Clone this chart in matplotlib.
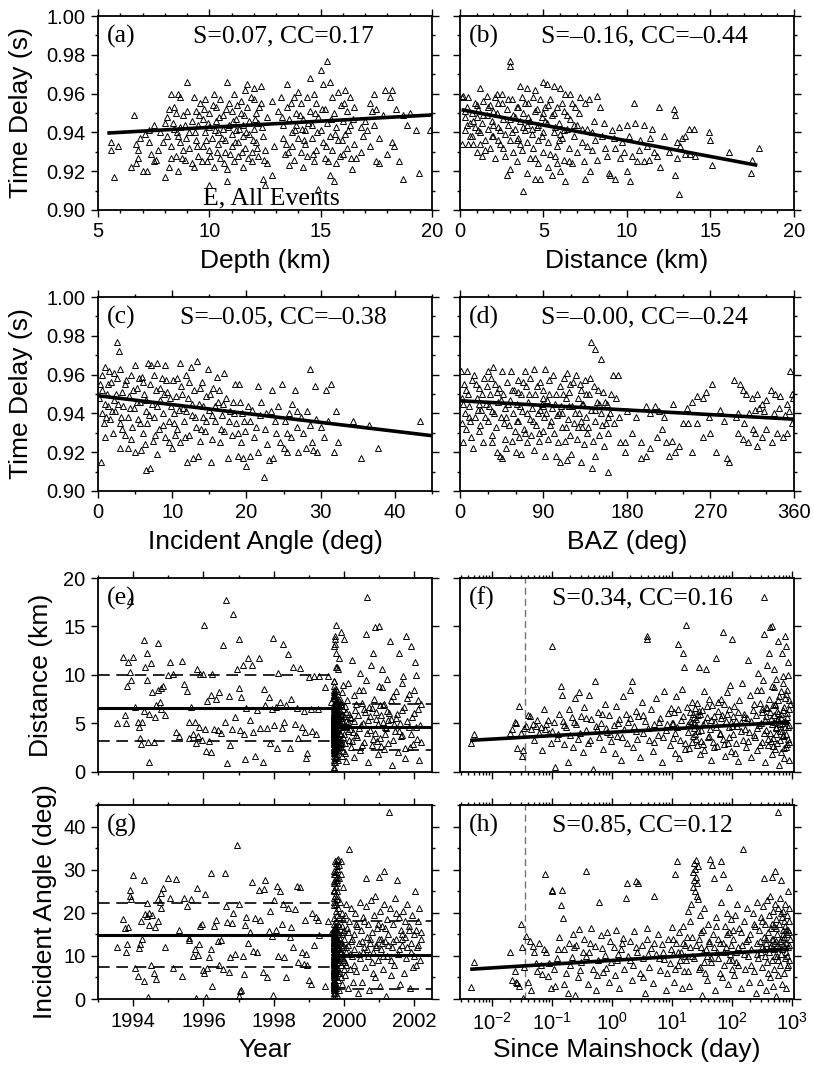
import matplotlib
matplotlib.use("Agg")
import matplotlib.pyplot as plt
import numpy as np
from matplotlib.ticker import MultipleLocator, FormatStrFormatter, LogLocator, NullFormatter

plt.rcParams["font.family"] = ["Liberation Sans", "DejaVu Sans"]
plt.rcParams["mathtext.fontset"] = "custom"
plt.rcParams["mathtext.rm"] = "Liberation Sans"
plt.rcParams["mathtext.it"] = "Liberation Sans"
SERIF = ["Liberation Serif", "DejaVu Serif"]

# ---- (a) depth (km) vs time delay (ms) ----
pts_depth = [
    (5.6,935),(5.6,931),(5.9,933),(5.7,917),(6.6,949),(6.5,922),(6.7,924),(6.7,934),(6.8,927),(7.0,920),
    (7.2,920),(7.1,939),(6.9,937),(6.8,931),(7.3,935),(7.4,929),(7.5,944),(7.6,926),(7.7,931),(7.5,925),
    (7.8,940),(7.9,935),(7.3,941),
    (8.0,945),(8.1,948),(8.3,960),(8.6,960),(8.7,958),(9.0,966),(8.4,953),(8.2,952),(8.5,950),(8.8,949),
    (8.9,944),(8.1,938),(8.3,933),(8.5,928),(8.7,935),(8.9,926),(8.2,922),(8.0,917),(8.6,920),(9.1,940),
    (8.4,942),(8.8,931),(9.1,932),(9.2,924),(8.3,927),(8.7,943),(8.6,938),(9.0,951),
    (9.3,958),(9.4,951),(9.5,944),(9.4,936),(9.5,928),(9.3,922),(9.6,955),(9.7,947),(9.8,940),(9.7,933),
    (9.9,925),(9.8,957),(10.0,950),(10.0,943),(10.1,937),(10.0,931),(10.0,913),(10.2,922),(10.2,960),
    (10.3,953),(10.3,946),(10.4,940),(10.4,934),(10.5,927),(10.5,957),(10.6,949),(10.6,942),(10.7,936),
    (10.7,930),(10.8,966),(10.8,921),(10.8,915),(10.9,955),(10.9,944),(11.0,939),(11.0,951),(11.0,933),
    (11.1,925),(11.1,960),(11.2,947),(11.2,941),(11.3,935),(11.3,928),(11.4,956),(11.4,950),(11.5,944),
    (11.5,938),(11.5,922),(11.6,962),(11.6,932),(11.7,965),(11.7,953),(11.8,946),(11.8,939),(11.9,930),
    (11.9,925),(12.0,963),(12.0,957),(12.0,942),(12.1,950),(12.1,935),(12.2,928),(12.2,945),(12.3,964),
    (12.3,955),(12.4,938),(12.4,916),(12.5,913),(12.5,931),(12.6,948),(12.6,924),(12.8,956),(12.9,933),
    (12.8,918),
    (13.1,951),(13.2,958),(13.3,944),(13.3,937),(13.4,929),(13.5,965),(13.5,953),(13.6,947),(13.6,923),
    (13.7,940),(13.7,933),(13.8,958),(13.8,926),(13.9,950),(13.9,944),(14.0,961),(14.0,937),(14.1,930),
    (14.1,955),(14.2,947),(14.2,922),(14.3,941),(14.3,934),(14.4,958),(14.4,928),(14.5,968),(14.5,951),
    (14.6,944),(14.6,937),(14.7,925),(14.7,960),(14.8,955),(14.8,931),(14.9,948),(14.9,911),(15.0,972),
    (15.0,941),(15.1,965),(15.1,935),(15.2,952),(15.2,927),(15.3,977),(15.3,945),(15.4,966),(15.4,938),
    (15.4,918),(15.5,958),(15.5,931),(15.6,950),(15.6,915),(15.7,943),(15.7,924),(15.8,961),(15.8,936),
    (15.9,954),(16.0,946),(16.0,929),(16.1,962),(16.1,939),(16.2,951),(16.2,932),(16.3,958),(16.3,944),
    (16.4,921),(16.5,953),(16.5,934),
    (16.8,943),(16.6,927),(17.0,946),(17.2,955),(17.4,960),(17.5,952),(17.9,962),(18.2,962),(18.1,958),
    (18.4,952),(18.7,949),(19.3,941),(18.9,944),(17.8,949),(17.3,951),(17.4,944),(17.6,937),(17.2,933),
    (16.9,938),(17.5,925),(17.6,924),(18.0,929),(18.3,933),(18.2,935),(18.5,925),(18.7,916),(19.4,919),
    (19.9,941),(19.0,950),(17.1,941),(16.8,930),
    (9.2,946),(9.35,940),(9.45,933),(9.55,949),(9.65,925),(9.75,952),(9.85,936),(9.95,945),(10.05,928),
    (10.15,954),(10.25,941),(10.35,930),(10.45,948),(10.55,937),(10.65,924),(10.75,952),(10.85,943),
    (10.95,929),(11.05,946),(11.15,935),(11.25,954),(11.35,942),(11.45,930),(11.55,949),(11.65,940),
    (11.75,927),(11.85,958),(11.95,936),(12.05,947),(12.15,932),(12.25,953),(12.35,943),(12.45,926),
    (8.35,945),(8.55,940),(8.75,927),(8.95,937),(13.25,948),(13.45,934),(13.65,955),(13.85,941),
    (14.05,949),(14.25,936),(14.45,945),(14.65,929),(14.85,940),(15.05,952),(15.25,933),(15.45,947),
    (15.65,939),(15.85,928),(16.05,955),(16.25,941),(16.45,947),(13.55,930),(14.15,942),(14.75,950),
    (15.35,925),(15.95,936),(16.35,927),
]

# ---- (b) epicentral distance (km) vs time delay (ms) ----
pts_dist = [
    (0.1,958),(0.2,959),(0.1,934),(0.3,948),(0.3,941),(0.4,953),(0.5,958),(0.5,934),(0.6,945),(0.7,950),
    (0.7,938),(0.8,934),(0.9,955),(0.9,943),(1.0,930),(1.0,948),
    (1.1,952),(1.2,963),(1.2,940),(1.3,928),(1.3,945),(1.4,956),(1.5,936),(1.6,959),(1.6,949),(1.7,942),
    (1.8,932),(1.8,954),(1.9,946),(2.0,938),(2.1,958),(2.1,927),(2.2,960),(2.2,950),(2.3,943),(2.4,934),
    (2.5,960),(2.5,955),(2.6,947),(2.7,939),(2.7,928),(2.8,918),(2.8,952),(2.9,944),(3.0,977),(3.0,974),
    (3.0,921),(3.0,936),
    (3.1,957),(3.2,949),(3.2,930),(3.3,942),(3.4,953),(3.4,925),(3.5,937),(3.6,964),(3.6,946),(3.7,958),
    (3.7,931),(3.8,910),(3.8,950),(3.9,941),(4.0,963),(4.0,919),(4.0,935),(4.1,955),(4.2,946),(4.2,927),
    (4.3,939),(4.4,958),(4.4,932),(4.5,962),(4.5,916),(4.5,951),(4.6,943),(4.7,924),(4.7,936),(4.8,916),
    (4.8,957),(4.9,948),(5.0,966),(5.0,940),(5.0,930),
    (5.1,953),(5.2,965),(5.2,945),(5.3,922),(5.3,935),(5.4,957),(5.5,918),(5.5,949),(5.6,964),(5.6,940),
    (5.7,928),(5.8,953),(5.8,933),(5.9,945),(6.0,963),(6.0,920),(6.1,937),(6.2,951),(6.2,926),(6.3,960),
    (6.3,915),(6.4,942),(6.5,932),(6.6,960),(6.6,947),(6.7,924),(6.8,938),(6.9,953),(7.0,930),(7.0,944),
    (7.2,958),(7.3,935),(7.4,925),(7.5,955),(7.5,916),(7.6,942),(7.7,957),(7.8,920),(7.9,931),(8.0,946),
    (8.2,959),(8.2,926),(8.4,953),(8.5,938),(8.7,932),(8.9,919),(9.0,918),(9.1,941),(9.3,916),(9.3,932),
    (9.5,943),(9.6,927),(9.8,930),(10.0,944),(10.0,920),(10.2,915),(10.3,928),(10.4,955),(10.5,945),
    (10.6,925),(10.8,936),(11.0,944),(11.0,925),(11.2,933),(11.3,926),(11.5,942),(11.6,930),(11.8,928),
    (11.9,953),(12.0,922),(12.2,938),(12.5,930),
    (12.8,952),(12.9,949),(12.9,918),(13.1,908),(13.0,935),(13.0,927),(13.3,937),(13.2,933),(13.5,938),
    (13.5,929),(13.7,942),(13.8,929),(14.0,942),(14.1,928),(14.9,940),(15.0,936),(15.1,923),(16.1,930),
    (17.5,926),(17.4,919),(17.9,932),
    (0.3,951),(0.6,938),(0.8,946),(1.1,941),(1.4,949),(1.5,931),(1.7,953),(1.9,938),(2.0,951),(2.3,955),
    (2.4,941),(2.6,932),(2.9,957),(3.1,940),(3.3,948),(3.5,953),(3.6,934),(3.8,943),(3.9,955),(4.1,948),
    (4.3,942),(4.6,952),(4.7,944),(4.9,938),(5.1,946),(5.3,954),(5.4,929),(5.6,950),(5.7,943),(5.9,936),
    (6.1,955),(6.2,941),(6.4,949),(6.5,925),(6.7,955),(6.8,944),(7.1,950),(7.3,942),(7.6,933),(7.9,940),
    (8.1,936),(8.6,945),(8.8,928),(9.2,937),(9.7,935),(10.1,938),(10.7,931),(11.4,937),(1.0,954),
    (2.0,944),(3.0,947),(4.0,944),(5.0,950),(6.0,939),(3.4,936),(4.5,927),(5.8,924),(2.3,936),(1.2,934),
    (0.4,944),
]

# ---- (c) incident angle (deg) vs time delay (ms) ----
pts_angle = [
    (0.2,948),(0.3,955),(0.4,915),(0.5,960),(0.6,940),(0.8,935),(1.0,964),(1.0,928),(1.2,950),(1.3,944),
    (1.5,962),(1.6,937),(1.8,956),(2.0,930),(2.1,947),(2.3,941),(2.5,977),(2.6,958),(2.8,972),(2.9,935),
    (3.0,963),(3.0,922),(3.2,951),(3.4,944),(3.6,929),(3.8,957),(4.0,922),(4.0,938),(4.2,949),(4.5,960),
    (4.6,933),(4.8,943),
    (5.0,965),(5.0,920),(5.2,953),(5.4,937),(5.6,946),(5.8,921),(5.9,959),(6.0,930),(6.2,950),(6.4,941),
    (6.5,911),(6.6,935),(6.8,966),(7.0,912),(7.0,955),(7.2,965),(7.3,945),(7.4,926),(7.6,938),(7.8,952),
    (8.0,966),(8.0,919),(8.2,932),(8.4,947),(8.6,958),(8.8,940),(9.0,965),(9.0,928),(9.3,951),(9.5,925),
    (9.6,936),(9.8,944),
    (10.0,922),(10.1,957),(10.3,940),(10.5,949),(10.7,932),(11.0,966),(11.0,925),(11.2,954),(11.4,943),
    (11.6,936),(11.8,960),(12.0,915),(12.1,948),(12.3,929),(12.5,964),(12.6,939),(12.8,917),(13.0,952),
    (13.2,933),(13.3,967),(13.5,918),(13.6,945),(13.8,926),(14.0,956),(14.2,938),(14.4,931),(14.6,949),
    (14.8,963),(15.0,942),(15.2,915),(15.3,927),(15.5,953),(15.8,936),(16.0,959),(16.2,946),(16.5,925),
    (16.7,939),(17.0,961),(17.0,931),
    (17.3,948),(17.5,917),(17.8,941),(18.0,929),(18.2,946),(18.5,955),(18.6,935),(18.8,918),(19.0,955),
    (19.2,925),(19.4,940),(19.5,917),(19.8,931),(20.0,913),(20.2,944),(20.5,918),(20.5,936),(21.0,928),
    (21.5,954),(21.5,920),(21.8,939),(22.0,946),(22.3,907),(22.5,932),(22.8,924),(23.0,916),(23.3,941),
    (23.5,952),(23.6,917),(24.0,930),(24.2,944),(24.5,925),(24.8,955),(25.0,922),(25.2,936),(25.5,920),
    (25.8,940),(26.0,928),(26.2,945),(26.5,952),(26.8,933),(27.0,920),(27.3,938),(27.6,930),(28.0,922),
    (28.2,941),(28.5,963),(28.6,934),(28.8,925),(29.0,921),(29.2,954),(29.4,937),(29.5,920),(30.0,933),
    (30.5,928),(30.7,952),(31.0,936),(31.4,955),(31.8,920),(32.0,941),(32.3,925),
    (34.3,936),(35.5,917),(36.5,934),(37.7,922),(43.4,936),
    (0.5,952),(0.9,945),(1.4,955),(1.9,941),(2.4,950),(3.1,938),(3.6,955),(4.3,943),(4.7,952),(5.3,946),
    (5.7,935),(6.1,956),(6.5,947),(6.9,939),(7.5,960),(7.9,944),(8.3,953),(8.7,934),(9.2,957),(9.7,948),
    (10.2,935),(10.6,958),(10.9,942),(11.3,950),(11.7,928),(12.2,956),(12.7,945),(13.1,938),(13.7,953),
    (14.1,944),(14.5,936),(15.1,950),(15.7,944),(16.3,952),(16.9,945),(17.6,936),(18.3,940),(19.1,946),
    (19.7,936),(20.8,942),(21.3,933),(23.8,936),(25.4,930),(1.1,938),(2.2,961),(3.3,932),(4.4,927),
    (5.5,958),(6.3,924),(7.7,929),(8.9,950),(10.4,929),(11.9,941),(13.9,932),(15.4,939),(16.6,932),
    (18.9,930),(22.6,940),(26.8,941),(2.7,945),
]

# ---- (d) back azimuth (deg) vs time delay (ms) ----
pts_baz = [
    (1,962),(2,948),(2,935),(3,925),(4,955),(5,940),(7,932),(8,962),(9,950),(10,944),(12,928),(13,957),
    (14,922),(15,960),(16,938),(18,948),(20,931),(21,953),(23,942),(25,925),(26,958),(28,945),(30,962),
    (30,936),(32,950),(34,929),(35,941),(36,964),(38,955),(39,933),(40,920),(41,946),(43,918),(44,938),
    (45,962),(45,917),(46,950),(48,927),(49,943),(50,922),(51,956),(53,934),(54,947),(55,962),(56,926),
    (57,940),(58,952),(59,931),
    (60,920),(61,945),(62,957),(63,936),(64,928),(66,919),(66,950),(67,941),(69,932),(70,962),(71,954),
    (72,925),(73,946),(75,937),(76,958),(77,929),(78,943),(80,963),(80,921),(81,950),(82,934),(84,940),
    (85,926),(86,956),(88,945),(89,931),(90,952),(91,938),(92,963),(92,918),(94,947),(95,927),(96,957),
    (97,934),(99,943),(100,960),(101,930),(103,918),(104,950),(105,939),(106,925),(108,915),(108,954),
    (109,944),(110,933),(112,958),(113,926),(114,948),(115,961),(115,916),(116,937),(118,951),(119,929),
    (120,919),
    (121,944),(122,956),(123,935),(125,960),(126,927),(127,948),(128,940),(130,915),(130,952),(131,933),
    (133,945),(134,924),(135,957),(136,938),(137,930),(139,950),(141,977),(141,942),(142,912),(143,926),
    (144,954),(146,973),(146,918),(146,936),(148,946),(150,929),(152,968),(152,940),(154,951),(155,923),
    (157,935),(158,945),(160,910),(160,930),(162,940),(165,960),(166,935),(168,948),(170,960),(171,938),
    (173,925),
    (178,925),(178,920),(180,941),(185,930),(190,938),(195,925),(195,917),(200,944),(200,918),(205,940),
    (205,922),(210,944),(212,928),(215,941),(218,932),(220,938),(222,925),(225,918),(228,926),(230,945),
    (232,920),(236,923),(240,935),(245,943),(246,935),(250,946),(250,920),(255,949),(256,935),(262,948),
    (262,928),(265,951),(268,938),(270,930),(272,955),(276,920),(280,942),(285,936),(288,917),(290,915),
    (295,957),(298,938),(300,930),(300,940),(302,955),(305,952),(305,927),(306,935),(308,950),(310,925),
    (312,940),(315,948),(316,932),(318,942),(318,930),(320,950),(320,923),(322,943),(325,945),(326,928),
    (328,941),(330,947),(330,932),(335,952),(336,925),(338,940),(340,950),(342,930),(344,943),(345,949),
    (348,928),(350,939),(352,945),(352,930),(355,941),(356,962),(358,950),(358,935),(359,948),
    (3,945),(6,952),(11,936),(17,955),(19,942),(22,934),(24,950),(27,938),(29,954),(31,944),(33,958),
    (37,940),(42,953),(44,947),(47,935),(52,945),(56,952),(61,936),(63,951),(65,944),(68,956),(72,940),
    (74,950),(79,936),(83,954),(86,942),(89,948),(93,940),(96,950),(98,936),(102,945),(107,940),(111,950),
    (114,933),(117,944),(119,955),(124,940),(127,933),(129,955),(132,945),(136,950),(138,933),(140,958),
    (145,942),(149,952),(153,934),(156,946),(159,938),(163,950),(10,938),(20,945),(40,951),(50,938),
    (70,930),(90,944),(110,940),(130,936),(150,945),(35,925),(85,930),
]

# ---- events before the mainshock: (decimal year, distance km, incident angle deg) ----
pre_events = [
    (1993.55,5.0,12.1),(1993.72,11.9,18.5),(1993.78,5.9,16.5),(1993.80,5.0,11.0),(1993.82,8.9,12.8),
    (1993.85,11.3,16.8),(1993.90,17.6,25.2),(1993.92,10.3,24.0),(1993.95,9.5,23.2),(1994.00,11.9,28.8),
    (1994.05,6.7,7.2),(1994.15,5.2,5.3),(1994.18,4.6,11.8),(1994.20,3.5,12.8),(1994.22,2.9,18.0),
    (1994.25,5.2,14.0),(1994.30,13.6,27.5),(1994.32,6.3,4.2),(1994.35,10.8,19.8),(1994.38,12.3,19.2),
    (1994.40,9.5,22.2),(1994.42,3.1,0.5),(1994.44,1.0,17.2),(1994.46,6.0,20.0),(1994.50,11.2,8.0),
    (1994.55,8.2,19.5),(1994.60,3.1,6.0),(1994.62,5.7,16.6),(1994.65,6.9,4.7),(1994.70,13.3,18.0),
    (1994.72,8.4,23.2),(1994.75,7.2,22.4),(1994.78,8.7,24.5),(1994.80,6.5,21.0),(1994.85,8.9,25.8),
    (1994.90,5.9,12.1),(1994.98,10.0,28.1),(1995.05,11.3,23.4),(1995.12,10.1,7.3),(1995.22,4.1,27.8),
    (1995.30,3.7,16.1),(1995.38,11.4,5.3),(1995.45,9.1,23.4),(1995.52,8.3,21.5),(1995.58,5.2,14.2),
    (1995.60,3.5,13.6),(1995.65,6.7,23.2),(1995.70,3.9,10.0),(1995.75,5.2,11.7),(1995.80,3.0,0.3),
    (1995.82,10.6,25.8),(1995.85,3.7,10.2),(1995.88,4.6,12.8),(1995.90,10.1,17.0),(1995.95,3.3,17.4),
    (1996.00,10.1,6.8),(1996.02,15.2,6.0),(1996.05,4.4,24.3),(1996.08,2.2,0.5),(1996.10,7.3,7.2),
    (1996.15,3.2,9.8),(1996.20,7.9,11.5),(1996.22,2.1,29.2),(1996.25,10.1,3.0),(1996.30,4.4,17.0),
    (1996.35,7.5,18.3),(1996.40,4.3,13.5),(1996.45,8.2,8.0),(1996.50,4.0,13.8),(1996.55,13.1,7.0),
    (1996.60,5.1,29.2),(1996.64,17.7,21.5),(1996.67,0.9,17.8),(1996.72,7.8,6.3),(1996.75,2.8,9.8),
    (1996.80,4.4,17.6),(1996.85,16.3,20.0),(1996.90,5.7,10.5),(1996.95,10.6,35.7),(1997.00,8.7,0.7),
    (1997.02,13.7,22.0),(1997.05,4.3,1.8),(1997.08,7.7,2.0),(1997.12,11.0,10.0),(1997.15,3.9,5.8),
    (1997.18,1.3,17.2),(1997.22,6.6,19.0),(1997.28,11.8,13.0),(1997.32,5.4,15.5),(1997.38,11.0,27.2),
    (1997.42,4.1,11.2),(1997.47,1.6,18.8),(1997.52,6.4,10.8),(1997.58,11.7,25.2),(1997.62,4.5,18.3),
    (1997.68,1.0,6.3),(1997.72,8.6,25.5),(1997.76,6.9,27.5),(1997.80,4.5,5.0),(1997.85,7.7,15.8),
    (1997.90,3.0,20.5),(1997.94,6.5,14.7),(1997.98,13.8,1.0),(1998.02,4.8,23.0),(1998.06,6.7,16.0),
    (1998.10,2.5,26.2),(1998.13,10.2,10.0),(1998.18,7.2,25.0),(1998.22,4.5,17.5),(1998.25,13.2,22.0),
    (1998.30,5.2,9.8),(1998.35,6.9,5.2),(1998.40,12.2,21.2),(1998.45,2.5,14.5),(1998.50,7.5,16.6),
    (1998.55,10.8,12.0),(1998.60,4.9,20.8),(1998.65,6.6,26.2),(1998.70,3.5,8.5),(1998.75,10.7,26.0),
    (1998.80,4.6,11.0),(1998.85,6.3,8.2),(1998.90,4.1,18.3),(1998.92,1.4,10.5),(1998.95,2.0,7.8),
    (1999.00,9.8,4.5),(1999.05,6.5,3.5),(1999.10,4.2,20.0),(1999.15,9.9,12.5),(1999.20,3.9,19.0),
    (1999.25,6.5,18.3),(1999.30,9.9,14.8),(1999.45,8.8,3.0),(1999.55,9.9,18.2),(1999.62,7.2,15.3),
]

# ---- events after the mainshock: (days since mainshock, distance km, incident angle deg) ----
post_events = [
    (0.0045,3.0,2.8),(0.005,3.9,8.5),
    (0.020,4.0,11.0),(0.021,4.4,4.4),(0.024,5.1,6.5),(0.025,5.0,3.9),(0.026,2.5,3.6),(0.028,6.8,3.0),
    (0.030,4.0,17.3),(0.031,1.6,12.0),(0.033,2.3,0.2),(0.034,4.5,7.5),
    (0.037,4.7,14.7),(0.039,5.9,4.0),(0.042,5.8,13.5),(0.045,4.4,2.0),(0.047,4.9,12.3),(0.050,3.3,10.8),
    (0.053,4.7,8.4),(0.056,5.4,6.5),(0.060,4.0,13.1),(0.064,4.6,8.0),(0.068,2.3,5.7),(0.072,6.5,11.5),
    (0.076,4.4,29.1),(0.080,4.9,11.0),(0.085,5.4,5.3),(0.090,4.0,8.4),(0.095,3.0,2.5),(0.099,13.0,25.0),
    (0.10,4.2,25.2),(0.11,0.5,3.0),(0.12,3.5,9.5),(0.13,6.0,14.5),(0.14,8.9,21.9),(0.145,7.9,25.2),
    (0.15,5.3,18.9),(0.16,2.9,11.5),(0.17,4.6,6.0),(0.18,1.0,1.5),(0.19,6.5,13.0),(0.20,3.8,7.8),
    (0.21,5.7,9.8),(0.22,2.6,15.0),(0.24,7.6,1.0),(0.25,4.9,12.5),(0.27,3.4,5.0),(0.28,8.2,16.2),
    (0.30,5.8,8.5),(0.32,2.1,10.8),(0.34,6.7,14.0),(0.37,4.3,29.7),(0.39,3.0,3.5),(0.41,7.9,11.0),
    (0.44,5.5,16.5),(0.47,0.3,7.0),(0.51,9.4,12.3),(0.54,4.7,2.2),(0.58,6.2,9.0),(0.61,3.6,22.5),
    (0.65,5.0,14.8),(0.70,2.4,6.3),(0.75,7.0,10.2),(0.82,4.1,15.5),(0.88,5.9,4.0),(0.95,3.2,8.7),
    (1.05,4.8,12.0),(1.1,2.0,5.5),(1.15,6.8,16.0),(1.2,3.7,9.0),(1.3,5.5,2.5),(1.4,1.2,11.5),
    (1.5,7.8,14.2),(1.6,4.4,7.0),(1.7,6.0,23.4),(1.75,3.0,26.8),(1.85,5.1,10.0),(2.0,8.5,13.5),
    (2.1,9.4,4.5),(2.2,2.6,8.0),(2.35,4.7,15.8),(2.46,6.3,27.3),(2.6,3.4,11.0),(2.7,5.8,27.0),
    (2.9,1.5,6.0),(3.1,7.2,12.5),(3.3,4.0,9.5),(3.5,5.3,1.5),(3.8,14.0,14.0),(3.85,13.7,16.5),
    (4.1,3.3,7.5),(4.4,6.5,11.8),(4.7,2.2,3.8),(5.0,4.9,24.0),(5.4,7.6,10.5),(5.8,3.8,15.0),
    (6.3,5.6,6.8),(6.8,1.0,12.8),(7.3,8.3,9.2),(7.9,4.3,2.0),(8.5,6.1,13.9),(9.2,2.8,8.3),(9.8,5.0,16.8),
    (10.3,3.5,10.5),(10.7,6.2,4.0),(11.0,2.0,29.0),(11.5,7.8,13.0),(12.0,4.6,32.0),(12.6,13.2,8.0),
    (13.2,1.4,15.5),(13.8,5.4,11.0),(14.4,8.6,2.5),(14.9,12.3,17.0),(15.5,10.8,6.5),(16.2,3.0,12.5),
    (17.0,15.2,9.0),(17.8,6.7,14.5),(18.5,4.1,20.5),(19.2,2.5,3.0),(20.0,5.3,18.0),(20.8,5.0,22.0),
    (21.5,7.2,10.0),(22.0,3.7,26.0),(22.5,6.0,29.5),(23.0,4.5,31.5),(23.4,5.2,27.5),(23.8,3.9,30.2),
    (24.2,6.6,25.0),(24.6,4.8,28.3),(25.0,5.5,32.3),(25.5,2.8,24.0),(26.0,7.1,27.0),(26.5,4.2,30.8),
    (27.2,5.9,23.2),(28.0,10.8,14.0),(28.8,1.8,7.5),(29.6,6.0,19.5),(30.5,3.2,12.0),(31.5,6.4,1.0),
    (32.5,4.9,16.0),(33.5,8.3,8.5),(34.5,2.3,21.0),(36.0,10.6,11.5),(37.5,5.7,4.5),(39.0,3.6,17.5),
    (40.5,7.5,13.0),(42.0,4.4,32.5),(44.0,1.2,9.5),(46.0,6.9,31.0),(48.0,3.1,15.0),(50.0,5.8,28.0),
    (52.0,5.1,2.0),(54.0,11.8,19.0),(56.5,2.7,11.0),(59.0,6.3,14.0),(61.5,4.0,6.0),(64.0,7.5,22.5),
    (66.0,5.6,32.0),(69.0,14.4,13.0),(70.0,3.4,29.0),(73.0,7.0,8.0),(76.0,1.6,17.0),(79.0,5.3,12.0),
    (82.0,8.2,20.0),(85.0,3.0,3.5),(87.0,6.5,26.0),(90.0,4.6,15.5),(93.0,9.0,10.5),(96.0,2.2,18.5),
    (98.0,4.7,7.0),
    (100,13.7,9.0),(104,3.9,14.0),(108,6.8,5.5),(112,2.0,19.5),(117,5.3,11.0),(122,4.7,22.0),
    (127,1.1,8.0),(132,7.4,16.5),(138,5.2,2.5),(144,9.2,12.5),(150,3.3,34.8),(156,6.0,18.0),
    (163,4.4,7.0),(170,2.6,13.5),(177,5.6,21.0),(185,11.5,10.0),(193,4.1,4.0),(201,7.9,15.0),
    (209,1.5,11.5),(218,6.4,20.0),(227,3.8,6.5),(236,3.6,17.0),(245,5.9,1.5),(254,8.4,13.0),
    (263,2.3,22.5),(272,10.2,9.5),(281,4.8,16.0),(290,7.1,4.0),(299,5.0,19.0),(308,3.1,12.0),
    (317,6.2,7.5),(326,9.5,21.5),(333,14.2,28.0),(340,18.0,14.5),(347,5.4,10.0),(355,1.0,17.5),
    (363,6.7,2.0),(371,4.3,13.0),(379,11.0,23.0),(387,6.6,8.5),(395,2.8,15.5),(403,12.3,11.0),
    (411,7.5,19.5),(420,14.9,5.0),(428,4.0,24.0),(436,5.5,12.5),(444,3.2,16.5),(452,1.8,9.0),
    (460,8.9,28.4),(466,15.1,14.0),(473,6.9,20.5),(480,3.5,3.0),(488,5.9,11.5),(496,10.6,17.0),
    (504,5.1,7.0),(512,2.4,22.0),(520,7.0,29.7),(528,4.6,13.5),(536,4.5,0.8),(544,9.6,18.5),
    (552,6.3,10.0),(560,3.0,15.0),(570,6.1,43.5),(580,13.5,21.0),(590,5.5,5.5),(600,0.7,12.0),
    (610,7.8,17.5),(620,4.9,8.0),(630,4.2,23.5),(640,8.3,14.0),(650,6.0,27.6),(660,2.1,10.5),
    (670,12.3,19.0),(680,5.0,3.5),(690,3.7,16.0),(700,3.8,12.5),(712,9.9,20.5),(724,6.7,6.0),
    (736,1.4,14.5),(748,14.0,9.5),(760,7.6,22.0),(772,4.6,17.0),(784,2.6,2.5),(796,13.0,11.0),
    (808,5.7,19.5),(820,2.9,7.5),(832,8.4,15.0),(844,11.3,25.0),(856,3.4,12.0),(868,6.5,18.0),
    (880,1.2,21.0),(892,4.8,9.0),(904,7.0,14.0),
    (0.105,5.1,7.0),(0.125,3.9,11.5),(0.155,4.8,3.5),(0.23,5.2,12.0),(0.29,4.0,6.8),(0.36,5.6,10.0),
    (0.43,3.3,13.0),(0.56,4.4,5.5),(0.68,6.0,11.8),(0.79,4.5,7.2),(0.92,3.9,13.5),
    (1.25,5.0,10.5),(1.45,3.6,13.0),(1.95,5.6,9.0),(2.5,4.2,12.0),(3.2,5.9,5.0),(4.0,4.5,10.5),
    (4.9,3.1,13.0),(6.0,5.2,9.5),(7.0,3.6,11.0),(8.2,4.9,6.0),(9.5,6.6,11.5),
    (10.5,5.0,14.0),(11.2,4.0,7.0),(12.3,6.5,11.0),(13.5,3.3,9.0),(15.0,5.8,13.0),(16.6,2.4,10.0),
    (18.0,4.9,6.5),(19.6,6.2,12.0),(21.0,3.1,14.5),(23.2,5.7,9.5),(24.9,3.4,12.5),(27.6,6.3,7.0),
    (30.0,4.3,15.5),(33.0,2.9,11.0),(35.2,5.2,6.0),(38.2,6.8,10.0),(41.2,3.7,13.5),(45.0,5.4,8.5),
    (49.0,2.6,12.0),(53.0,4.6,17.0),(58.0,7.2,9.5),(63.0,3.9,13.0),(68.0,5.9,5.0),(74.0,2.9,11.0),
    (80.5,6.0,15.0),(88.5,3.6,9.0),(95.0,5.1,12.5),
    (102,5.8,16.0),(115,3.0,8.5),(125,6.2,12.0),(141,4.2,15.5),(160,5.7,10.5),(181,3.2,14.0),
    (205,5.3,8.0),(231,7.0,17.5),(258,4.5,10.5),(286,2.8,13.5),(312,6.5,18.0),(343,4.0,11.5),
    (367,5.8,14.0),(399,3.4,6.0),(432,6.2,12.0),(456,4.9,17.5),(484,2.7,14.0),(508,6.9,10.0),
    (532,3.9,16.5),(556,5.4,12.5),(585,7.4,9.0),(615,3.3,13.5),(645,5.6,20.0),(675,4.2,11.5),
    (706,6.4,14.0),(730,2.5,18.0),(754,5.3,12.0),(778,8.0,16.0),(802,3.9,13.0),(826,6.1,10.0),
    (850,4.6,16.0),(874,7.4,12.5),(898,3.1,15.5),(300,8.5,11.0),(500,8.8,13.0),(700,9.2,15.0),
    (850,10.0,8.0),
]

mainshock_year = 1999.72      # 1999 Chi-Chi mainshock
mainshock_marker_day = 0.035  # grey dashed line in (f), (h)

# regression lines (x ends, y ends)
fit_depth = ([5.5, 20.0], [0.9397, 0.9490])
fit_dist = ([0.2, 17.7], [0.9515, 0.9232])
fit_angle = ([0.0, 45.0], [0.9491, 0.9285])
fit_baz = ([0.0, 360.0], [0.9465, 0.9370])
fit_day_dist = ([0.0046, 830.0], [3.27, 5.13])
fit_day_angle = ([0.0046, 830.0], [6.93, 11.50])

# mean and mean +/- std levels before / after the mainshock
dist_pre_levels = [3.16, 6.58, 10.0]
dist_post_levels = [2.3, 4.65, 7.0]
angle_pre_levels = [7.46, 14.85, 22.3]
angle_post_levels = [2.3, 10.2, 18.1]

stats = {
    "a": "S=0.07, CC=0.17", "b": "S=\u20130.16, CC=\u20130.44",
    "c": "S=\u20130.05, CC=\u20130.38", "d": "S=\u20130.00, CC=\u20130.24",
    "f": "S=0.34, CC=0.16", "h": "S=0.85, CC=0.12",
}

# ------------------------------------------------------------------
pre = np.array(pre_events)
post = np.array(post_events)
post_year = mainshock_year + post[:, 0] / 365.25

fig = plt.figure(figsize=(8.14, 10.68), dpi=100)
W, H = 0.4103, 0.1816
lefts = [0.1204, 0.5651]
bottoms = [0.8034, 0.5403, 0.2772, 0.0646]


def new_ax(row, col):
    ax = fig.add_axes([lefts[col], bottoms[row], W, H])
    ax.tick_params(which="both", direction="out", top=True, right=True,
                   labelsize=14.5, width=1.0, pad=4)
    ax.tick_params(which="major", length=5)
    ax.tick_params(which="minor", length=2.5)
    for s in ax.spines.values():
        s.set_linewidth(1.3)
    if col == 1:
        ax.tick_params(labelleft=False)
    return ax


def tri(ax, x, y):
    ax.plot(x, y, "^", ms=4.6, mfc="none", mec="k", mew=0.7, zorder=2)


def tag(ax, letter, x_s=None):
    ax.text(0.027, 0.865, "(%s)" % letter, transform=ax.transAxes,
            fontfamily=SERIF, fontsize=18.5, va="baseline", ha="left")
    if x_s is not None:
        ax.text(x_s, 0.865, stats[letter], transform=ax.transAxes,
                fontfamily=SERIF, fontsize=18.5, va="baseline", ha="center")


def delay_axis(ax):
    ax.set_ylim(0.90, 1.00)
    ax.yaxis.set_major_locator(MultipleLocator(0.02))
    ax.yaxis.set_minor_locator(MultipleLocator(0.01))
    ax.yaxis.set_major_formatter(FormatStrFormatter("%.2f"))


def xlab(ax, text):
    ax.set_xlabel(text, fontsize=19)
    ax.xaxis.set_label_coords(0.5, -0.2)


def ylab(ax, text, x):
    ax.set_ylabel(text, fontsize=19)
    ax.yaxis.set_label_coords(x, 0.5)


# (a)
ax = new_ax(0, 0)
d = np.array(pts_depth)
tri(ax, d[:, 0], d[:, 1] / 1000)
ax.plot(*fit_depth, "k-", lw=2.6, zorder=3)
ax.set_xlim(5, 20)
ax.xaxis.set_major_locator(MultipleLocator(5))
ax.xaxis.set_minor_locator(MultipleLocator(1))
delay_axis(ax)
tag(ax, "a", 0.554)
ax.text(0.52, 0.031, "E, All Events", transform=ax.transAxes, fontfamily=SERIF,
        fontsize=18.5, ha="center", va="baseline")
xlab(ax, "Depth (km)")
ylab(ax, "Time Delay (s)", -0.195)

# (b)
ax = new_ax(0, 1)
d = np.array(pts_dist)
tri(ax, d[:, 0], d[:, 1] / 1000)
ax.plot(*fit_dist, "k-", lw=2.6, zorder=3)
ax.set_xlim(0, 20)
ax.xaxis.set_major_locator(MultipleLocator(5))
ax.xaxis.set_minor_locator(MultipleLocator(1))
delay_axis(ax)
tag(ax, "b", 0.552)
xlab(ax, "Distance (km)")

# (c)
ax = new_ax(1, 0)
d = np.array(pts_angle)
tri(ax, d[:, 0], d[:, 1] / 1000)
ax.plot(*fit_angle, "k-", lw=2.6, zorder=3)
ax.set_xlim(0, 45)
ax.xaxis.set_major_locator(MultipleLocator(10))
ax.xaxis.set_minor_locator(MultipleLocator(5))
delay_axis(ax)
tag(ax, "c", 0.554)
xlab(ax, "Incident Angle (deg)")
ylab(ax, "Time Delay (s)", -0.195)

# (d)
ax = new_ax(1, 1)
d = np.array(pts_baz)
tri(ax, d[:, 0], d[:, 1] / 1000)
ax.plot(*fit_baz, "k-", lw=2.6, zorder=3)
ax.set_xlim(0, 360)
ax.xaxis.set_major_locator(MultipleLocator(90))
ax.xaxis.set_minor_locator(MultipleLocator(30))
delay_axis(ax)
tag(ax, "d", 0.552)
xlab(ax, "BAZ (deg)")


def year_panel(ax, col, pre_levels, post_levels):
    tri(ax, pre[:, 0], pre[:, col])
    tri(ax, post_year, post[:, col])
    x_pre = [1993, mainshock_year]
    x_post = [mainshock_year, 2002.5]
    for lv_set, xs in ((pre_levels, x_pre), (post_levels, x_post)):
        ax.plot(xs, [lv_set[1]] * 2, "k-", lw=2.2, zorder=3)
        for lv in (lv_set[0], lv_set[2]):
            ax.plot(xs, [lv] * 2, color="k", lw=1.2, ls=(0, (7, 4)), zorder=3)
    ax.set_xlim(1993, 2002.5)
    ax.xaxis.set_major_locator(MultipleLocator(2))
    ax.xaxis.set_minor_locator(MultipleLocator(1))
    ax.xaxis.set_major_formatter(FormatStrFormatter("%d"))


def day_panel(ax, col, fit):
    tri(ax, post[:, 0], post[:, col])
    ax.plot(*fit, "k-", lw=2.6, zorder=3)
    ax.axvline(mainshock_marker_day, color="0.45", lw=1.0, ls=(0, (5, 3)), zorder=1)
    ax.set_xscale("log")
    ax.set_xlim(0.0029, 1070)
    ax.xaxis.set_major_locator(LogLocator(base=10, numticks=20))
    ax.xaxis.set_minor_locator(LogLocator(base=10, subs=np.arange(2, 10), numticks=20))
    ax.xaxis.set_minor_formatter(NullFormatter())


# (e)
ax = new_ax(2, 0)
year_panel(ax, 1, dist_pre_levels, dist_post_levels)
ax.set_ylim(0, 20)
ax.yaxis.set_major_locator(MultipleLocator(5))
ax.tick_params(labelbottom=False)
tag(ax, "e")
ylab(ax, "Distance (km)", -0.135)

# (f)
ax = new_ax(2, 1)
day_panel(ax, 1, fit_day_dist)
ax.set_ylim(0, 20)
ax.yaxis.set_major_locator(MultipleLocator(5))
ax.tick_params(labelbottom=False)
tag(ax, "f", 0.546)

# (g)
ax = new_ax(3, 0)
year_panel(ax, 2, angle_pre_levels, angle_post_levels)
ax.set_ylim(0, 45)
ax.yaxis.set_major_locator(MultipleLocator(10))
ax.yaxis.set_minor_locator(MultipleLocator(5))
tag(ax, "g")
xlab(ax, "Year")
ylab(ax, "Incident Angle (deg)", -0.123)

# (h)
ax = new_ax(3, 1)
day_panel(ax, 2, fit_day_angle)
ax.set_ylim(0, 45)
ax.yaxis.set_major_locator(MultipleLocator(10))
ax.yaxis.set_minor_locator(MultipleLocator(5))
tag(ax, "h", 0.546)
xlab(ax, "Since Mainshock (day)")

fig.savefig("out.png", dpi=100)
